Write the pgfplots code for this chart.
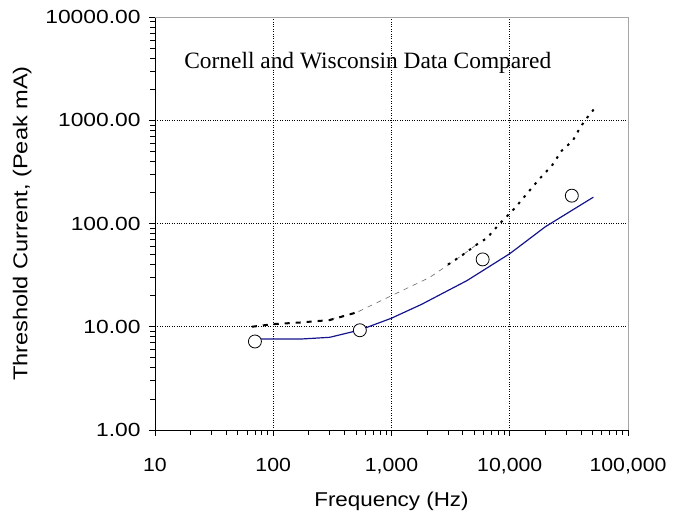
\documentclass[border=0pt]{standalone}
\usepackage{pgfplots}
\pgfplotsset{compat=1.18}
\usepackage{fontspec}
\setmainfont{Liberation Sans}
\newfontfamily\titlefont{Liberation Serif}
\newfontfamily\stretchsans[FakeStretch=1.12]{Liberation Sans}
\newfontfamily\ysans[FakeStretch=1.2]{Liberation Sans}
\newfontfamily\ylabsans[FakeStretch=1.18]{Liberation Sans}
\definecolor{navyline}{RGB}{20,20,140}
\begin{document}
\begin{tikzpicture}[x=1pt,y=1pt]
\path[use as bounding box] (0,0) rectangle (675,519);
\begin{axis}[
  at={(155pt,89pt)}, anchor=south west,
  scale only axis, width=473pt, height=413pt,
  xmode=log, ymode=log,
  xmin=10, xmax=100000, ymin=1, ymax=10000,
  axis x line*=bottom, axis y line*=left,
  axis line style={black, line width=0.8pt},
  tick align=outside,
  major tick length=6pt, minor tick length=5pt,
  tick style={black, line width=0.7pt},
  xtick={10,100,1000,10000,100000},
  xticklabels={10,100,{1,000},{10,000},{100,000}},
  minor xtick={20,30,40,50,60,70,80,90,200,300,400,500,600,700,800,900,2000,3000,4000,5000,6000,7000,8000,9000,20000,30000,40000,50000,60000,70000,80000,90000},
  ytick={1,10,100,1000,10000},
  yticklabels={1.00,10.00,100.00,1000.00,10000.00},
  minor ytick={2,3,4,5,6,7,8,9,20,30,40,50,60,70,80,90,200,300,400,500,600,700,800,900,2000,3000,4000,5000,6000,7000,8000,9000},
  xticklabel style={font=\stretchsans\fontsize{19}{22}\selectfont, yshift=-19pt},
  yticklabel style={font=\ysans\fontsize{19}{22}\selectfont, xshift=-5pt},
  xmajorgrids, ymajorgrids,
  major grid style={black, dotted, line width=0.7pt},
  xlabel={Frequency (Hz)},
  ylabel={Threshold Current, (Peak mA)},
  xlabel style={font=\stretchsans\fontsize{20}{24}\selectfont, yshift=-11pt},
  ylabel style={font=\ylabsans\fontsize{20}{24}\selectfont, yshift=7pt},
  clip=false,
]
\draw[gray!70, line width=0.8pt] (rel axis cs:0,1) -- (rel axis cs:1,1) -- (rel axis cs:1,0);
% thin dashed
\addplot[gray!80!black, line width=0.6pt, dash pattern=on 5pt off 5pt] coordinates {
(300,11.8) (510,13.8) (1000,20) (2100,30) (3940,49) (5400,64)
};
% thick dotted lower
\addplot[black, line width=2pt, dash pattern=on 5pt off 6pt] coordinates {
(66,10) (100,10.6) (170,11) (300,11.6) (510,13.8)
};
% thick dotted upper
\addplot[black, line width=2pt, dash pattern=on 2.5pt off 6pt] coordinates {
(3000,40) (3940,49) (5400,64) (6400,72) (8240,100) (11000,140) (14000,195)
(17900,272) (22700,363) (27500,507) (34100,633) (38000,790) (43000,990) (52700,1320)
};
% blue solid
\addplot[navyline, line width=1.2pt] coordinates {
(68,7.6) (100,7.6) (170,7.6) (300,7.9) (540,9.3) (1000,12.1) (1800,16.5)
(4350,28) (10000,51) (20000,93) (51000,180)
};
% circles
\addplot[only marks, mark=*, mark size=6.5pt, mark options={fill=white, draw=black, line width=0.8pt}] coordinates {
(70,7.2) (540,9.25) (5900,44.9) (33500,186)
};
\node[font=\titlefont\fontsize{23.4}{28}\selectfont, anchor=base] at (axis cs:630,3150) {Cornell and Wisconsin Data Compared};
\end{axis}
\end{tikzpicture}
\end{document}
